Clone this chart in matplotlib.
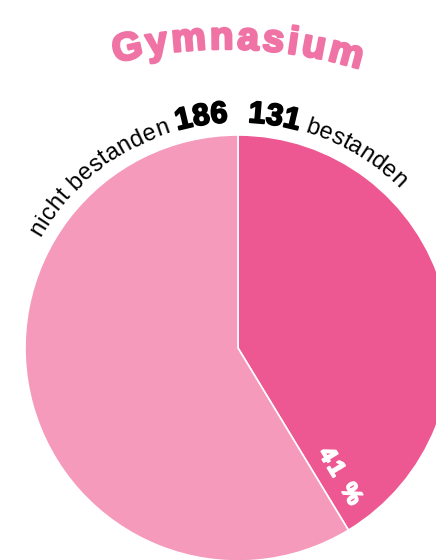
import numpy as np
import matplotlib
matplotlib.use("Agg")
import matplotlib.pyplot as plt
import matplotlib.patheffects as pe
from matplotlib.font_manager import FontProperties, findfont
from matplotlib.ft2font import FT2Font

# --- data ---------------------------------------------------------------
categories = ["bestanden", "nicht bestanden"]
counts = [131, 186]
colors = ["#EE5892", "#F59ABB"]
title = "Gymnasium"

DPI = 100
W, H = 436, 560

fig = plt.figure(figsize=(W / DPI, H / DPI), dpi=DPI)
ax = fig.add_axes([0, 0, 1, 1])

# pie in pixel coordinates (y up)
cx, cy, R = 238, 212, 213
ax.pie(counts, colors=colors, startangle=90, counterclock=False,
       center=(cx, cy), radius=R,
       wedgeprops=dict(edgecolor="white", linewidth=1.2))
ax.set_xlim(0, W)
ax.set_ylim(0, H)
ax.set_aspect("equal")
ax.axis("off")


def advances(text, fp):
    font = FT2Font(findfont(fp))
    font.set_size(fp.get_size_in_points(), DPI)
    return [font.load_char(ord(c)).linearHoriAdvance / 65536 for c in text]


def arc_text(segments, center, radius, anchor_deg, align="left", tracking=0.0):
    """Write text clockwise along a circle; angles are compass angles (0 = top)."""
    items = []
    for text, fp, kw in segments:
        for c, a in zip(text, advances(text, fp)):
            items.append((c, a, fp, kw))
    total = sum(a for _, a, _, _ in items) + tracking * (len(items) - 1)
    start = np.radians(anchor_deg)
    if align == "right":
        start -= total / radius
    elif align == "center":
        start -= total / radius / 2
    s = 0.0
    ox, oy = center
    for c, a, fp, kw in items:
        th = start + (s + a / 2) / radius
        x = ox + radius * np.sin(th)
        y = oy + radius * np.cos(th)
        if c.strip():
            ax.text(x, y, c, fontproperties=fp, rotation=-np.degrees(th),
                    rotation_mode="anchor", ha="center", va="baseline", **kw)
        s += a + tracking


regular = FontProperties(family="Liberation Sans", size=17)
bold = FontProperties(family="Liberation Sans", weight="bold", size=22)
heavy = [pe.withStroke(linewidth=1.3, foreground="black")]

r_lab = 226
arc_text([("nicht bestanden ", regular, dict(color="black")),
          (str(counts[1]), bold, dict(color="black", path_effects=heavy))],
         (cx, cy), r_lab, -2.5, align="right", tracking=0.3)
arc_text([(str(counts[0]), bold, dict(color="black", path_effects=heavy)),
          (" bestanden", regular, dict(color="black"))],
         (cx, cy), r_lab, 2.5, align="left", tracking=0.1)

# title on a wide arc
title_fp = FontProperties(family="Liberation Sans", weight="bold", size=28)
title_col = "#EF73A5"
arc_text([(title, title_fp, dict(color=title_col,
                                 path_effects=[pe.withStroke(linewidth=1.8, foreground=title_col)]))],
         (226, 55), 456, 1.5, align="center", tracking=3.2)

# percentage label alongside the wedge border
share = counts[0] / sum(counts)
pct = f"{round(100 * share)} %"
border = np.radians(share * 360)
pct_fp = FontProperties(family="Liberation Sans", weight="bold", size=17)
theta_c = border - np.radians(7.3)
px, py = cx + 164 * np.sin(theta_c), cy + 164 * np.cos(theta_c)
dirx, diry = np.sin(border), np.cos(border)
adv = advances(pct, pct_fp)
gap = 3
tot = sum(adv) + gap * (len(adv) - 1)
s = -tot / 2
for c, a in zip(pct, adv):
    m = s + a / 2
    if c.strip():
        ax.text(px + m * dirx, py + m * diry, c, fontproperties=pct_fp,
                color="white", rotation=90 - np.degrees(border),
                rotation_mode="anchor", ha="center", va="center",
                path_effects=[pe.withStroke(linewidth=1.3, foreground="white")])
    s += a + gap

fig.savefig("out.png", dpi=DPI)
